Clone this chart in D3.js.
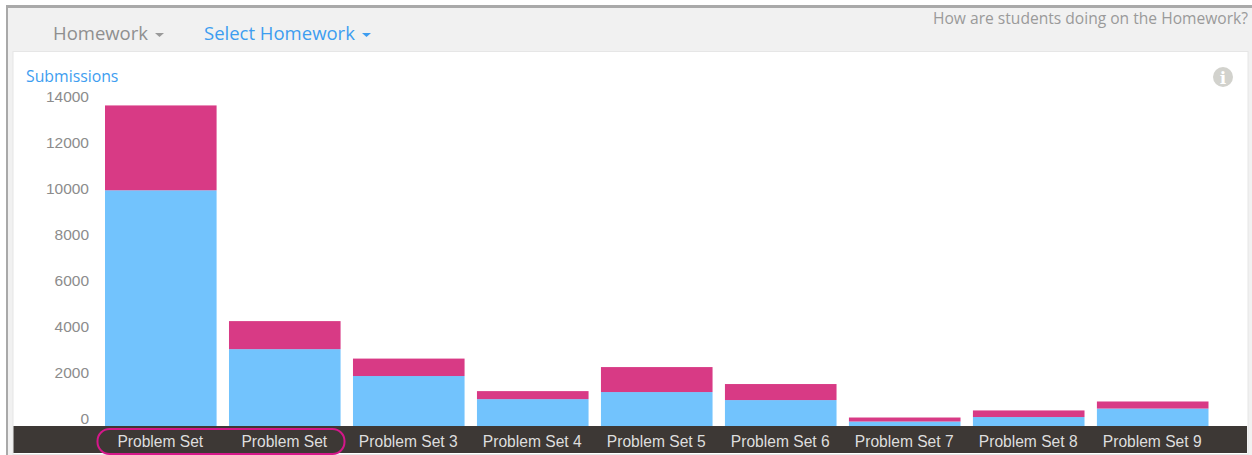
<!DOCTYPE html>
<html>
<head>
<meta charset="utf-8">
<script src="https://cdn.jsdelivr.net/npm/d3@7"></script>
<style>
html, body { margin: 0; padding: 0; background: #fff; overflow: hidden; }
svg { display: block; }
</style>
</head>
<body>
<script>
// Submissions per problem set
const categories = ["Problem Set", "Problem Set", "Problem Set 3", "Problem Set 4", "Problem Set 5", "Problem Set 6", "Problem Set 7", "Problem Set 8", "Problem Set 9"];
const onTime = [10000, 3260, 2120, 1140, 1440, 1100, 190, 380, 740];
const late = [3600, 1190, 740, 340, 1060, 680, 170, 280, 300];
const tickValues = [0, 2000, 4000, 6000, 8000, 10000, 12000, 14000];
const seriesColors = ["#72c3fd", "#d83a85"];

const width = 1252, height = 455;
const sans = "'Liberation Sans', Arial, sans-serif";
const ui = "'Open Sans', sans-serif";

const svg = d3.select("body").append("svg").attr("width", width).attr("height", height);

// Outer panel with its heavier top and left rules
svg.append("rect").attr("x", 0).attr("y", 0).attr("width", width).attr("height", height).attr("fill", "#fff");
svg.append("rect").attr("x", 6).attr("y", 5).attr("width", width - 6).attr("height", height - 5).attr("fill", "#a9a9a9");
svg.append("rect").attr("x", 8).attr("y", 8).attr("width", width - 8).attr("height", height - 8).attr("fill", "#f1f1f1");

// White chart card
svg.append("rect").attr("x", 13).attr("y", 51.5).attr("width", 1235).attr("height", 403)
  .attr("fill", "#fff").attr("stroke", "#e6e6e6");

// Header navigation
const caret = (x, y, color) => svg.append("path")
  .attr("d", d3.line()([[x, y], [x + 9, y], [x + 4.5, y + 4]])).attr("fill", color);
svg.append("text").attr("x", 53).attr("y", 40).attr("font-family", ui).attr("font-size", 18.5)
  .attr("fill", "#8f8f8f").text("Homework");
caret(155, 33, "#9a9a9a");
svg.append("text").attr("x", 204).attr("y", 40).attr("font-family", ui).attr("font-size", 18.5)
  .attr("fill", "#3d9df0").text("Select Homework");
caret(362, 33, "#3d9df0");
svg.append("text").attr("x", 1248).attr("y", 24).attr("text-anchor", "end").attr("font-family", ui)
  .attr("font-size", 15.6).attr("fill", "#9a9a9a").text("How are students doing on the Homework?");

svg.append("text").attr("x", 26).attr("y", 82).attr("font-family", ui).attr("font-size", 15.8)
  .attr("fill", "#3d9df0").text("Submissions");

// Info badge
svg.append("circle").attr("cx", 1223).attr("cy", 77).attr("r", 10).attr("fill", "#d2d2cd");
svg.append("text").attr("x", 1223).attr("y", 84).attr("text-anchor", "middle")
  .attr("font-family", "'DejaVu Serif', serif").attr("font-weight", "bold").attr("font-size", 17)
  .attr("fill", "#fff").text("i");

// Scales: the bars stand on the band below, the axis labels run a little above it
const x = d3.scaleBand().domain(d3.range(categories.length)).range([105, 1208.5]).paddingInner(0.1);
const y = d3.scaleLinear().domain([0, 14000]).range([426, 96]);
const yLabels = d3.scaleLinear().domain([0, 14000]).range([418, 96]);

const stack = d3.stack().keys([0, 1]).value((i, k) => (k === 0 ? onTime : late)[i]);
const layers = stack(d3.range(categories.length));

svg.selectAll("g.layer").data(layers).join("g").attr("class", "layer")
  .attr("fill", (d, i) => seriesColors[i])
  .selectAll("rect").data(d => d.map((s, i) => ({ s, i }))).join("rect")
  .attr("x", d => x(d.i))
  .attr("width", x.bandwidth())
  .attr("y", d => y(d.s[1]))
  .attr("height", d => y(d.s[0]) - y(d.s[1]));

// Value axis: labels only
const axis = svg.append("g").attr("transform", "translate(89,0.6)")
  .call(d3.axisLeft(yLabels).tickValues(tickValues).tickFormat(d3.format("d")).tickSize(0).tickPadding(0));
axis.select(".domain").remove();
axis.selectAll("text").attr("font-family", sans).attr("font-size", 15.5).attr("fill", "#8c8c8c");

// Dark category band
svg.append("rect").attr("x", 13.5).attr("y", 426).attr("width", 1233.5).attr("height", 27).attr("fill", "#3d3835");
svg.selectAll("text.cat").data(categories).join("text").attr("class", "cat")
  .attr("x", (d, i) => x(i) + x.bandwidth() / 2 - 0.5)
  .attr("y", 446.5)
  .attr("text-anchor", "middle")
  .attr("font-family", sans).attr("font-size", 15.6).attr("fill", "#dedede")
  .text(d => d);

// Highlight around the first two categories
svg.append("rect").attr("x", 97.5).attr("y", 429).attr("width", 247).attr("height", 25).attr("rx", 12)
  .attr("fill", "none").attr("stroke", "#d5178a").attr("stroke-width", 2);
</script>
</body>
</html>
